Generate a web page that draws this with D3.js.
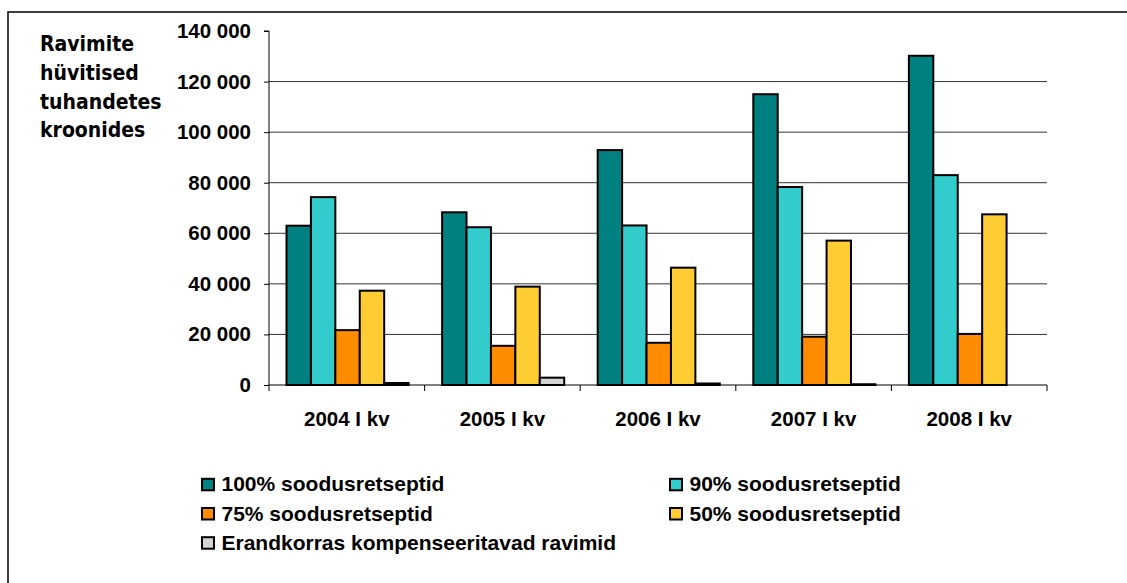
<!DOCTYPE html>
<html><head><meta charset="utf-8">
<script src="https://cdn.jsdelivr.net/npm/d3@7"></script>
<style>body{margin:0;background:#fff}svg{display:block}</style>
</head><body>
<svg id="c" width="1127" height="583"></svg>
<script>
const categories = ["2004 I kv","2005 I kv","2006 I kv","2007 I kv","2008 I kv"];
const seriesNames = ["100% soodusretseptid","90% soodusretseptid","75% soodusretseptid","50% soodusretseptid","Erandkorras kompenseeritavad ravimid"];
const s100 = [63000, 68300, 92900, 115000, 130200];
const s90  = [74300, 62400, 63100, 78300, 83000];
const s75  = [21700, 15500, 16700, 19100, 20200];
const s50  = [37300, 38900, 46400, 57100, 67500];
const sErand = [800, 2900, 600, 300, 0];
const yTicks = [0,20000,40000,60000,80000,100000,120000,140000];
const colors = ["#008080","#33CCCC","#FF8C00","#FFCC33","#D4D4D4"];
const titleLines = ["Ravimite","hüvitised","tuhandetes","kroonides"];

const series = [s100,s90,s75,s50,sErand];
const svg = d3.select("#c");
const L=269, R=1047, T=31, B=385;
const FONT = "Liberation Sans, Arial, sans-serif";

// outer border
svg.append("rect").attr("x",8).attr("y",12).attr("width",1140).attr("height",600)
  .attr("fill","none").attr("stroke","#000").attr("stroke-width",1.5);

const x0 = d3.scaleBand().domain(categories).range([L,R]).paddingInner(0).paddingOuter(0);
const x1 = d3.scaleBand().domain(d3.range(5)).range([17.5, x0.bandwidth()-16]);
const y = d3.scaleLinear().domain([0,140000]).range([B,T]);

// grid
svg.append("g").selectAll("line").data(yTicks.filter(t=>t>0&&t<140000)).join("line")
  .attr("x1",L).attr("x2",R).attr("y1",d=>y(d)).attr("y2",d=>y(d))
  .attr("stroke","#333").attr("stroke-width",1);

// y axis
const yAxis = d3.axisLeft(y).tickValues(yTicks).tickSize(5).tickPadding(13)
  .tickFormat(d=>d3.format(",")(d).replace(/,/g," "));
const gy = svg.append("g").attr("transform",`translate(${L},0)`).call(yAxis);
gy.attr("font-size",null).attr("font-family",null);
gy.select(".domain").attr("d",`M-5,${T}H0V${B}`).attr("stroke","#000");
gy.selectAll(".tick line").attr("stroke","#000");
gy.selectAll("text").style("font-family",FONT)
  .style("font-weight","bold").style("font-size","20.5px").attr("fill","#000");

// bars
const groups = svg.append("g").selectAll("g").data(categories).join("g")
  .attr("transform",d=>`translate(${x0(d)},0)`);
groups.selectAll("rect").data((d,i)=>series.map((s,k)=>({k,v:s[i]}))).join("rect")
  .attr("x",d=>x1(d.k)).attr("width",x1.bandwidth())
  .attr("y",d=>y(d.v)).attr("height",d=>B-y(d.v))
  .attr("fill",d=>colors[d.k]).attr("stroke","#000").attr("stroke-width",2);

// x axis
const xAxis = d3.axisBottom(x0).tickSize(0).tickPadding(26);
const gx = svg.append("g").attr("transform",`translate(0,${B})`).call(xAxis);
gx.attr("font-size",null).attr("font-family",null);
gx.select(".domain").attr("d",`M${L},0H${R}`).attr("stroke","#000");
gx.selectAll("text").style("font-family",FONT)
  .style("font-weight","bold").style("font-size","20.5px").attr("fill","#000");
svg.append("g").selectAll("line").data(categories.map(c=>x0(c)).concat([R])).join("line")
  .attr("x1",d=>d).attr("x2",d=>d).attr("y1",B).attr("y2",B+6).attr("stroke","#000");

// title
const tt = svg.append("text").style("font-family","DejaVu Sans Condensed, DejaVu Sans, sans-serif")
  .style("font-stretch","condensed")
  .style("font-weight","bold").style("font-size","21px").attr("fill","#000");
titleLines.forEach((t,i)=>tt.append("tspan").attr("x",40).attr("y",51+i*28.8).text(t));

// legend
const legPos = [[201,484.3],[669,484.3],[201,513.5],[669,513.5],[201,542.7]];
const lg = svg.append("g").selectAll("g").data(seriesNames).join("g")
  .attr("transform",(d,i)=>`translate(${legPos[i][0]},${legPos[i][1]})`);
lg.append("rect").attr("x",1).attr("y",-5.5).attr("width",12).attr("height",11.5)
  .attr("fill",(d,i)=>colors[i]).attr("stroke","#000").attr("stroke-width",2);
lg.append("text").attr("x",20.5).attr("y",7).text(d=>d)
  .style("font-family",FONT).style("font-weight","bold")
  .style("font-size","21px").attr("fill","#000");
</script>
</body></html>
